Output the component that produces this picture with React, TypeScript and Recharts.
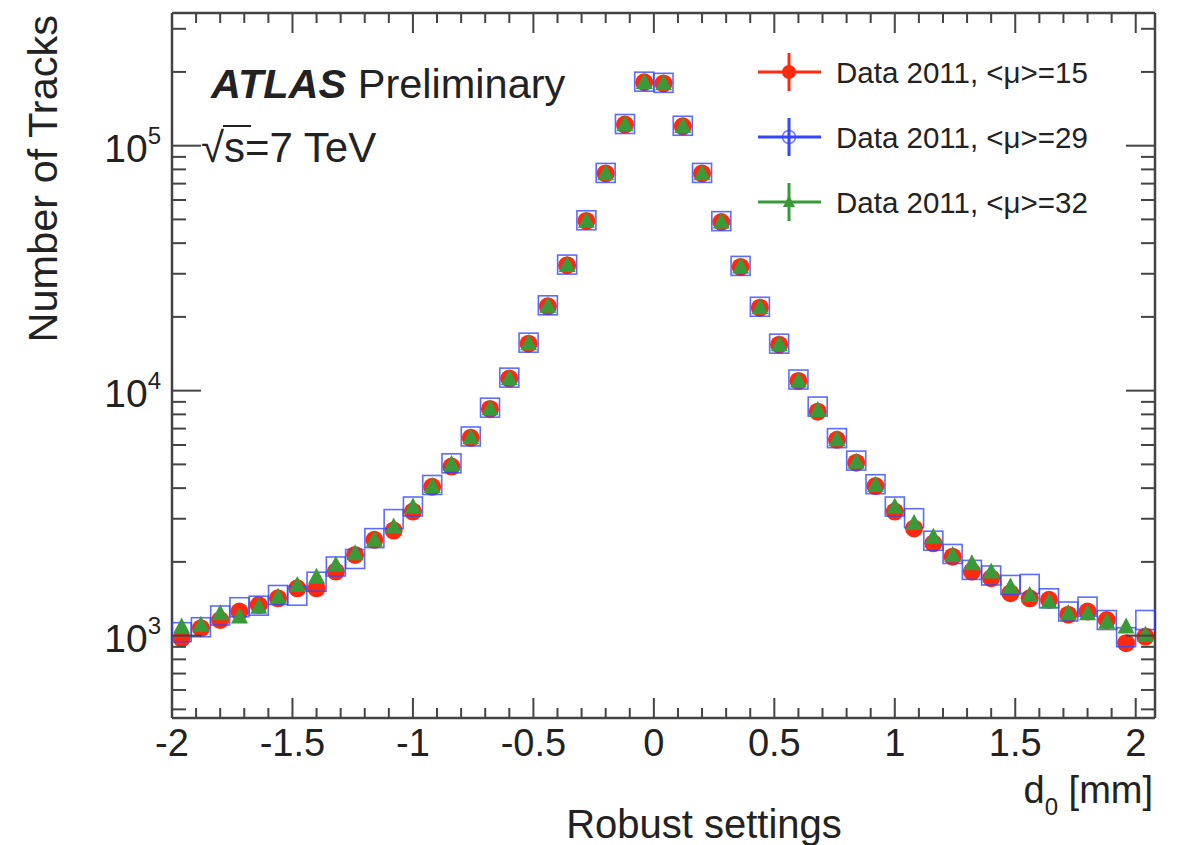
import React from "react";
import { ScatterChart, Scatter, XAxis, YAxis, Customized } from "recharts";

// bin centres of d0 [mm]
const binCenters = [
  -1.96, -1.88, -1.8, -1.72, -1.64, -1.56, -1.48, -1.4, -1.32, -1.24, -1.16,
  -1.08, -1.0, -0.92, -0.84, -0.76, -0.68, -0.6, -0.52, -0.44, -0.36, -0.28,
  -0.2, -0.12, -0.04, 0.04, 0.12, 0.2, 0.28, 0.36, 0.44, 0.52, 0.6, 0.68, 0.76,
  0.84, 0.92, 1.0, 1.08, 1.16, 1.24, 1.32, 1.4, 1.48, 1.56, 1.64, 1.72, 1.8,
  1.88, 1.96, 2.04,
];

const mu15 = [
  975, 1072, 1158, 1254, 1333, 1420, 1560, 1560, 1825, 2135, 2460, 2685, 3210,
  4050, 4900, 6420, 8420, 11200, 15550, 22100, 32500, 49300, 77000, 122000,
  181500, 179500, 120000, 77000, 48800, 32000, 21800, 15400, 10950, 8210, 6300,
  5080, 4080, 3210, 2740, 2380, 2100, 1825, 1715, 1490, 1420, 1400, 1217, 1254,
  1158, 931, 991,
];

const mu29 = [
  1033, 1082, 1208, 1306, 1325, 1465, 1455, 1660, 1915, 2055, 2500, 2990, 3365,
  4120, 5050, 6500, 8520, 11300, 15700, 22300, 32700, 49600, 77400, 122600,
  182500, 180500, 120600, 77400, 49200, 32300, 22000, 15550, 11100, 8610, 6400,
  5180, 4150, 3365, 3015, 2440, 2155, 1855, 1760, 1610, 1625, 1420, 1254, 1313,
  1158, 985, 1158,
];

const mu32 = [
  1090, 1107, 1233, 1196, 1313, 1440, 1610, 1740, 1945, 2170, 2460, 2790, 3365,
  4080, 5020, 6460, 8470, 11240, 15600, 22200, 32600, 49400, 77200, 122300,
  182000, 180000, 120300, 77200, 49000, 32100, 21900, 15450, 11000, 8340, 6340,
  5130, 4120, 3365, 2880, 2535, 2135, 1972, 1825, 1585, 1465, 1377, 1233, 1233,
  1140, 1090, 1007,
];

const xMajorTicks = [-2, -1.5, -1, -0.5, 0, 0.5, 1, 1.5, 2];
const xMinorTicks = [
  -1.9, -1.8, -1.7, -1.6, -1.4, -1.3, -1.2, -1.1, -0.9, -0.8, -0.7, -0.6, -0.4,
  -0.3, -0.2, -0.1, 0.1, 0.2, 0.3, 0.4, 0.6, 0.7, 0.8, 0.9, 1.1, 1.2, 1.3, 1.4,
  1.6, 1.7, 1.8, 1.9,
];
const yMajorTicks = [1000, 10000, 100000];
const yMajorExp = ["3", "4", "5"];
const yMinorTicks = [
  500, 600, 700, 800, 900, 2000, 3000, 4000, 5000, 6000, 7000, 8000, 9000,
  20000, 30000, 40000, 50000, 60000, 70000, 80000, 90000, 200000, 300000,
];

const seriesNames = [
  "Data 2011, <\u03bc>=15",
  "Data 2011, <\u03bc>=29",
  "Data 2011, <\u03bc>=32",
];

const RED = "#fe2a10";
const BLUE = "#3347ff";
const GREEN = "#3a9a3a";
const INK = "#222";
const FRAME = "#444";
const FONT = "'Liberation Sans', Arial, Helvetica, sans-serif";

const toPoints = (vals: number[]) =>
  binCenters.map((x, i) => ({ x, y: vals[i] }));

const xTicks = [...xMajorTicks, ...xMinorTicks].sort((a, b) => a - b);
const yTicks = [...yMajorTicks, ...yMinorTicks].sort((a, b) => a - b);

const Circle = (p: any) => <circle cx={p.cx} cy={p.cy} r={9} fill={RED} />;
const OpenSquare = (p: any) => (
  <rect
    x={p.cx - 9.5}
    y={p.cy - 9.5}
    width={19}
    height={19}
    fill="none"
    stroke={BLUE}
    strokeOpacity={0.8}
    strokeWidth={1.6}
  />
);
const Triangle = (p: any) => (
  <polygon
    points={`${p.cx},${p.cy - 9} ${p.cx - 8.5},${p.cy + 7} ${p.cx + 8.5},${p.cy + 7}`}
    fill={GREEN}
  />
);

const BottomTick = ({ x, y, payload }: any) => {
  const major = xMajorTicks.includes(payload.value);
  return (
    <g>
      <line x1={x} y1={y} x2={x} y2={y - (major ? 20 : 10)} stroke={FRAME} strokeWidth={2} />
      {major && (
        <text x={x} y={y + 38} textAnchor="middle" fontSize={38} fontFamily={FONT} fill={INK}>
          {String(payload.value)}
        </text>
      )}
    </g>
  );
};

const TopTick = ({ x, y, payload }: any) => {
  const major = xMajorTicks.includes(payload.value);
  return <line x1={x} y1={y} x2={x} y2={y + (major ? 20 : 10)} stroke={FRAME} strokeWidth={2} />;
};

const LeftTick = ({ x, y, payload }: any) => {
  const k = yMajorTicks.indexOf(payload.value);
  return (
    <g>
      <line x1={x} y1={y} x2={x + (k >= 0 ? 29 : 14)} y2={y} stroke={FRAME} strokeWidth={2} />
      {k >= 0 && (
        <text x={x - 11} y={y + 16} textAnchor="end" fontSize={39} fontFamily={FONT} fill={INK}>
          <tspan>10</tspan>
          <tspan dy={-18} fontSize={24}>
            {yMajorExp[k]}
          </tspan>
        </text>
      )}
    </g>
  );
};

const RightTick = ({ x, y, payload }: any) => {
  const major = yMajorTicks.includes(payload.value);
  return <line x1={x} y1={y} x2={x - (major ? 29 : 14)} y2={y} stroke={FRAME} strokeWidth={2} />;
};

const legendColors = [RED, BLUE, GREEN];

function Overlay() {
  return (
    <g fontFamily={FONT} fill={INK}>
      <text x={211} y={98} fontSize={41.5}>
        <tspan fontWeight="bold" fontStyle="italic">ATLAS</tspan>
        <tspan> Preliminary</tspan>
      </text>
      <text x={201} y={162} fontSize={42}>
        {"\u221As=7 TeV"}
      </text>
      <line x1={223} y1={126} x2={251} y2={126} stroke={INK} strokeWidth={2} />
      {seriesNames.map((name, i) => {
        const cy = 72 + i * 65;
        const c = legendColors[i];
        return (
          <g key={name}>
            <line x1={758} y1={cy} x2={821} y2={cy} stroke={c} strokeWidth={3} />
            <line x1={789} y1={cy - 19} x2={789} y2={cy + 19} stroke={c} strokeWidth={3} />
            {i === 0 && <circle cx={789} cy={cy} r={7} fill={c} />}
            {i === 1 && (
              <circle cx={789} cy={cy} r={6.5} fill="none" stroke={c} strokeOpacity={0.7} strokeWidth={1.5} />
            )}
            {i === 2 && (
              <polygon points={`789,${cy - 7} ${783},${cy + 5} ${795},${cy + 5}`} fill={c} />
            )}
            <text x={836} y={cy + 10.5} fontSize={29.5}>
              {name}
            </text>
          </g>
        );
      })}
      <text x={1153} y={803} fontSize={38} textAnchor="end">
        <tspan>d</tspan>
        <tspan dy={12} fontSize={24}>0</tspan>
        <tspan dy={-12}> [mm]</tspan>
      </text>
      <text x={57} y={15} fontSize={41.5} textAnchor="end" transform="rotate(-90 57 15)">
        Number of Tracks
      </text>
      <text x={704} y={838} fontSize={40} textAnchor="middle">
        Robust settings
      </text>
    </g>
  );
}

export default function App() {
  const axisLine = { stroke: FRAME, strokeWidth: 2.5 };
  return (
    <div style={{ position: "absolute", left: 0, top: 0, background: "#fff" }}>
      <ScatterChart width={1179} height={845} margin={{ top: 12, right: 23, bottom: 0, left: 0 }}>
        <XAxis
          xAxisId="b"
          type="number"
          dataKey="x"
          domain={[-2, 2.08]}
          allowDataOverflow
          ticks={xTicks}
          interval={0}
          tickSize={0}
          tickMargin={0}
          tickLine={false}
          tick={BottomTick}
          axisLine={axisLine}
          height={127}
        />
        <XAxis
          xAxisId="t"
          orientation="top"
          type="number"
          dataKey="x"
          domain={[-2, 2.08]}
          allowDataOverflow
          ticks={xTicks}
          interval={0}
          tickSize={0}
          tickMargin={0}
          tickLine={false}
          tick={TopTick}
          axisLine={axisLine}
          height={1}
        />
        <YAxis
          yAxisId="l"
          type="number"
          dataKey="y"
          scale="log"
          domain={[461, 348000]}
          allowDataOverflow
          ticks={yTicks}
          interval={0}
          tickSize={0}
          tickMargin={0}
          tickLine={false}
          tick={LeftTick}
          axisLine={axisLine}
          width={172}
        />
        <YAxis
          yAxisId="r"
          orientation="right"
          type="number"
          dataKey="y"
          scale="log"
          domain={[461, 348000]}
          allowDataOverflow
          ticks={yTicks}
          interval={0}
          tickSize={0}
          tickMargin={0}
          tickLine={false}
          tick={RightTick}
          axisLine={axisLine}
          width={1}
        />
        <Scatter
          name={seriesNames[0]}
          data={toPoints(mu15)}
          xAxisId="b"
          yAxisId="l"
          shape={Circle}
          isAnimationActive={false}
        />
        <Scatter
          name={seriesNames[1]}
          data={toPoints(mu29)}
          xAxisId="b"
          yAxisId="l"
          shape={OpenSquare}
          isAnimationActive={false}
        />
        <Scatter
          name={seriesNames[2]}
          data={toPoints(mu32)}
          xAxisId="b"
          yAxisId="l"
          shape={Triangle}
          isAnimationActive={false}
        />
        <Customized component={Overlay} />
      </ScatterChart>
    </div>
  );
}
